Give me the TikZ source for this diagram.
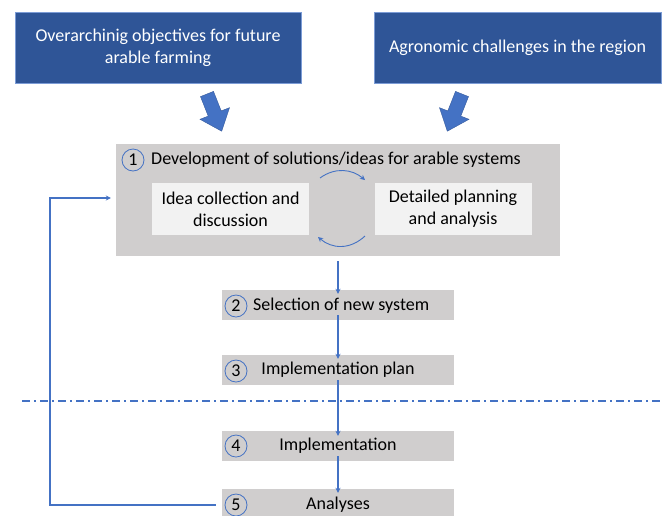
\documentclass[tikz,border=0pt]{standalone}
\usepackage{fontspec}
\setmainfont{Carlito}
\usetikzlibrary{arrows.meta,calc}
\definecolor{dblue}{HTML}{2F5597}
\definecolor{lblue}{HTML}{4472C4}
\definecolor{gbox}{HTML}{D0CECE}
\definecolor{lbox}{HTML}{F2F2F2}
\tikzset{
  topbox/.style={fill=dblue, draw=lblue!70, line width=0.5pt, text=white, align=center, inner sep=0pt},
  stepbox/.style={fill=gbox, minimum width=232, minimum height=30, inner sep=0pt},
  innerbox/.style={fill=lbox, minimum width=157, minimum height=52, inner sep=0pt, align=center},
  numc/.style={circle, draw=lblue, line width=0.8pt, minimum size=22, inner sep=0pt},
  flow/.style={draw=lblue, line width=1.4pt, -{Stealth[length=5pt,width=5pt]}},
  thin flow/.style={draw=lblue, line width=0.9pt, -{Stealth[length=5pt,width=5pt]}},
  blockarrow/.style={fill=lblue, draw=lblue!80!black, line width=0.4pt},
  txt/.style={font=\fontsize{18}{22}\selectfont}
}
\begin{document}
\begin{tikzpicture}[x=1pt,y=-1pt, txt]
\useasboundingbox (0,0) rectangle (668,515);
\clip (0,0) rectangle (668,515);
% top boxes
\node[topbox, minimum width=286, minimum height=71] (obj) at (158,47.5) {Overarchinig objectives for future\\arable farming};
\node[topbox, minimum width=287, minimum height=71] (agr) at (517.5,47.5) {Agronomic challenges in the region};
% block arrows
\draw[blockarrow] (200.5,96.6) -- (213.5,91.4) -- (221.2,110.9) -- (229.5,107.7) -- (221.7,131.2) -- (200.0,119.3) -- (208.2,116.1) -- cycle;
\draw[blockarrow] (468.5,96.6) -- (455.5,91.4) -- (447.8,110.9) -- (439.5,107.7) -- (447.3,131.2) -- (469.0,119.3) -- (460.8,116.1) -- cycle;
% big box
\node[fill=gbox, minimum width=444, minimum height=112, inner sep=0pt] (big) at (338,200) {};
\node[numc] (c1) at (133,160) {1};
\node[anchor=west, inner sep=0pt] (t1) at (151,160) {Development of solutions/ideas for arable systems};
\node[innerbox] (idea) at (230.5,209) {Idea collection and\\discussion};
\node[innerbox] (plan) at (453,209) {Detailed planning\\and analysis};
\coordinate (ta) at (320,178);
\coordinate (tb) at (365,180);
\coordinate (ba) at (365,236);
\coordinate (bb) at (318,237);
\draw[thin flow] (ta) .. controls (335,167) and (352,169) .. (tb);
\draw[thin flow] (ba) .. controls (350,250) and (332,249) .. (bb);
% steps
\node[stepbox] (s2) at (338,305) {};
\node[numc] (c2) at (236,306) {2};
\node[anchor=west, inner sep=0pt] at (253,306) {Selection of new system};
\node[stepbox] (s3) at (338,370) {};
\node[numc] (c3) at (236,371) {3};
\node at (338,370) {Implementation plan};
\node[stepbox] (s4) at (338,446) {};
\node[numc] (c4) at (236,446) {4};
\node at (338,446) {Implementation};
\node[stepbox, minimum height=32] (s5) at (338,505) {};
\node[numc] (c5) at (236,505) {5};
\node at (338,505) {Analyses};
% dash-dot line
\coordinate (dl) at (22,401);
\coordinate (dr) at (662,401);
\draw[lblue, line width=1.4pt, dash pattern=on 8pt off 4pt on 2pt off 4pt] (dl) -- (dr);
% flow arrows
\draw[flow] ([yshift=-5]big.south -| s2.north) -- ([yshift=-4]s2.north);
\draw[flow] ([yshift=5]s2.south) -- ([yshift=-4]s3.north);
\draw[flow] ([yshift=5]s3.south) -- ([yshift=-5]s4.north);
\draw[flow] ([yshift=5]s4.south) -- ([yshift=-4]s5.north);
% feedback
\coordinate (fb) at (50,198);
\draw[flow] ([xshift=-6]s5.west) -| (fb) -- ([xshift=-5]big.west |- fb);
\end{tikzpicture}
\end{document}
